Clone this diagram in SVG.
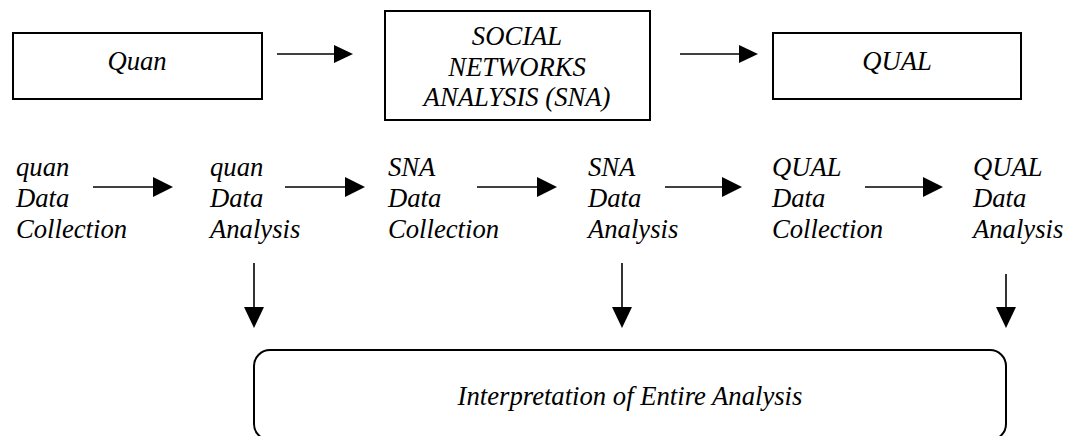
<svg xmlns="http://www.w3.org/2000/svg" width="1071" height="436" viewBox="0 0 1071 436">
<style>
text{font-family:'Liberation Serif','Times New Roman',serif;font-style:italic;font-size:26.67px;fill:#000}
.box{fill:#fff;stroke:#000;stroke-width:2}
.ln{stroke:#000;stroke-width:1.6;fill:none}
.hd{fill:#000;stroke:none}
</style>
<rect width="1071" height="436" fill="#fff"/>
<g id="quan"><rect class="box" x="13" y="33" width="249" height="66"/><text x="137" y="70" text-anchor="middle">Quan</text></g>
<g id="sna"><rect class="box" x="385" y="11" width="265" height="109"/>
<text text-anchor="middle"><tspan x="517" y="45">SOCIAL</tspan><tspan x="517" y="76">NETWORKS</tspan><tspan x="517" y="106">ANALYSIS (SNA)</tspan></text></g>
<g id="qual"><rect class="box" x="773" y="33" width="248" height="66"/><text x="897" y="70" text-anchor="middle">QUAL</text></g>
<g id="c1"><text><tspan x="16" y="176">quan</tspan><tspan x="16" y="207">Data</tspan><tspan x="16" y="238">Collection</tspan></text></g>
<g id="c2"><text><tspan x="210" y="176">quan</tspan><tspan x="210" y="207">Data</tspan><tspan x="210" y="238">Analysis</tspan></text></g>
<g id="c3"><text><tspan x="388" y="176">SNA</tspan><tspan x="388" y="207">Data</tspan><tspan x="388" y="238">Collection</tspan></text></g>
<g id="c4"><text><tspan x="588" y="176">SNA</tspan><tspan x="588" y="207">Data</tspan><tspan x="588" y="238">Analysis</tspan></text></g>
<g id="c5"><text><tspan x="772" y="176">QUAL</tspan><tspan x="772" y="207">Data</tspan><tspan x="772" y="238">Collection</tspan></text></g>
<g id="c6"><text><tspan x="973" y="176">QUAL</tspan><tspan x="973" y="207">Data</tspan><tspan x="973" y="238">Analysis</tspan></text></g>
<g id="interp"><rect class="box" x="254" y="350" width="752" height="90" rx="16" ry="16"/><text x="630" y="405" text-anchor="middle">Interpretation of Entire Analysis</text></g>
<g id="connectors">
<path class="ln" d="M277 54H336"/><path class="hd" d="M334 45L353 54L334 63Z"/>
<path class="ln" d="M680 54H741"/><path class="hd" d="M739 45L758 54L739 63Z"/>
<path class="ln" d="M93 187H155"/><path class="hd" d="M153 177L173 187L153 197Z"/>
<path class="ln" d="M285 187H347"/><path class="hd" d="M345 177L365 187L345 197Z"/>
<path class="ln" d="M477 187H539"/><path class="hd" d="M537 177L557 187L537 197Z"/>
<path class="ln" d="M665 187H724"/><path class="hd" d="M722 177L742 187L722 197Z"/>
<path class="ln" d="M865 187H925"/><path class="hd" d="M923 177L943 187L923 197Z"/>
<path class="ln" d="M254 263V310"/><path class="hd" d="M244 307L254 328L264 307Z"/>
<path class="ln" d="M622 263V310"/><path class="hd" d="M612 307L622 328L632 307Z"/>
<path class="ln" d="M1006 274V310"/><path class="hd" d="M996 307L1006 328L1016 307Z"/>
</g>
</svg>
